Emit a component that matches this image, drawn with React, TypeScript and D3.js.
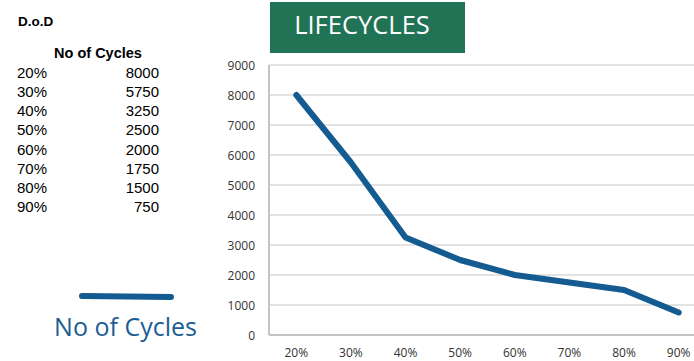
import React, { useEffect, useRef } from "react"
import * as d3 from "d3"

const WIDTH = 694
const HEIGHT = 361

const dodLabels = ["20%", "30%", "40%", "50%", "60%", "70%", "80%", "90%"]
const cycles = [8000, 5750, 3250, 2500, 2000, 1750, 1500, 750]
const yTicks = [0, 1000, 2000, 3000, 4000, 5000, 6000, 7000, 8000, 9000]

const PLOT = { left: 269, right: 706, top: 65, bottom: 335 }
const LINE_COLOR = "#135b91"

const App: React.FC = () => {
    const svgRef = useRef<SVGSVGElement | null>(null)

    useEffect(() => {
        if (!svgRef.current) return
        const svg = d3.select(svgRef.current)
        svg.selectAll("*").remove()

        const x = d3
            .scaleBand<string>()
            .domain(dodLabels)
            .range([PLOT.left, PLOT.right])
        const y = d3.scaleLinear().domain([0, 9000]).range([PLOT.bottom, PLOT.top])

        // table on the left
        const table = svg.append("g").style("font-family", "'Liberation Sans', Arial, sans-serif")
        table
            .append("text")
            .attr("x", 18)
            .attr("y", 26)
            .attr("font-size", 13.5)
            .attr("font-weight", "bold")
            .text("D.o.D")
        table
            .append("text")
            .attr("x", 98)
            .attr("y", 58)
            .attr("text-anchor", "middle")
            .attr("font-size", 14.5)
            .attr("font-weight", "bold")
            .text("No of Cycles")
        dodLabels.forEach((lab, i) => {
            const by = 78 + i * 19.15
            table
                .append("text")
                .attr("x", 17)
                .attr("y", by)
                .attr("font-size", 15)
                .text(lab)
            table
                .append("text")
                .attr("x", 159)
                .attr("y", by)
                .attr("text-anchor", "end")
                .attr("font-size", 15)
                .text(String(cycles[i]))
        })

        // title box
        svg.append("rect")
            .attr("x", 270)
            .attr("y", 2)
            .attr("width", 195)
            .attr("height", 51)
            .attr("fill", "#217356")
        svg.append("text")
            .attr("x", 362)
            .attr("y", 34)
            .attr("text-anchor", "middle")
            .attr("fill", "#ffffff")
            .attr("font-size", 25.5)
            .style("font-family", "'Open Sans', sans-serif")
            .text("LIFECYCLES")

        // gridlines
        const chart = svg.append("g")
        chart
            .selectAll("line.grid")
            .data(yTicks.filter(t => t > 0))
            .enter()
            .append("line")
            .attr("x1", PLOT.left)
            .attr("x2", PLOT.right)
            .attr("y1", d => y(d))
            .attr("y2", d => y(d))
            .attr("stroke", "#d9d9d9")
            .attr("stroke-width", 1.5)

        // axes lines
        chart.append("line")
            .attr("x1", PLOT.left)
            .attr("x2", PLOT.left)
            .attr("y1", PLOT.top)
            .attr("y2", PLOT.bottom)
            .attr("stroke", "#c4c4c4")
            .attr("stroke-width", 2)
        chart.append("line")
            .attr("x1", PLOT.left)
            .attr("x2", PLOT.right)
            .attr("y1", PLOT.bottom)
            .attr("y2", PLOT.bottom)
            .attr("stroke", "#c4c4c4")
            .attr("stroke-width", 2)

        // y tick labels
        chart
            .selectAll("text.ytick")
            .data(yTicks)
            .enter()
            .append("text")
            .attr("x", 255)
            .attr("y", d => y(d) + 4.5)
            .attr("text-anchor", "end")
            .attr("font-size", 12)
            .attr("fill", "#333")
            .style("font-family", "'Open Sans', sans-serif")
            .text(d => String(d))

        // x tick labels
        chart
            .selectAll("text.xtick")
            .data(dodLabels)
            .enter()
            .append("text")
            .attr("x", d => x(d)! + x.bandwidth() / 2)
            .attr("y", 357)
            .attr("text-anchor", "middle")
            .attr("font-size", 12)
            .attr("fill", "#333")
            .style("font-family", "'Open Sans', sans-serif")
            .text(d => d)

        // the line
        const line = d3
            .line<number>()
            .x((_, i) => x(dodLabels[i])! + x.bandwidth() / 2)
            .y(d => y(d))
        chart.append("path")
            .datum(cycles)
            .attr("d", line)
            .attr("fill", "none")
            .attr("stroke", LINE_COLOR)
            .attr("stroke-width", 6)
            .attr("stroke-linecap", "round")
            .attr("stroke-linejoin", "round")

        // legend
        svg.append("line")
            .attr("x1", 82)
            .attr("x2", 171)
            .attr("y1", 296)
            .attr("y2", 297)
            .attr("stroke", LINE_COLOR)
            .attr("stroke-width", 6)
            .attr("stroke-linecap", "round")
        svg.append("text")
            .attr("x", 125.5)
            .attr("y", 336)
            .attr("text-anchor", "middle")
            .attr("font-size", 25)
            .attr("fill", "#1d5d94")
            .style("font-family", "'Open Sans', sans-serif")
            .text("No of Cycles")
    }, [])

    return (
        <svg
            ref={svgRef}
            width={WIDTH}
            height={HEIGHT}
            style={{ position: "absolute", left: 0, top: 0, background: "#fff" }}
        />
    )
}

export default App
